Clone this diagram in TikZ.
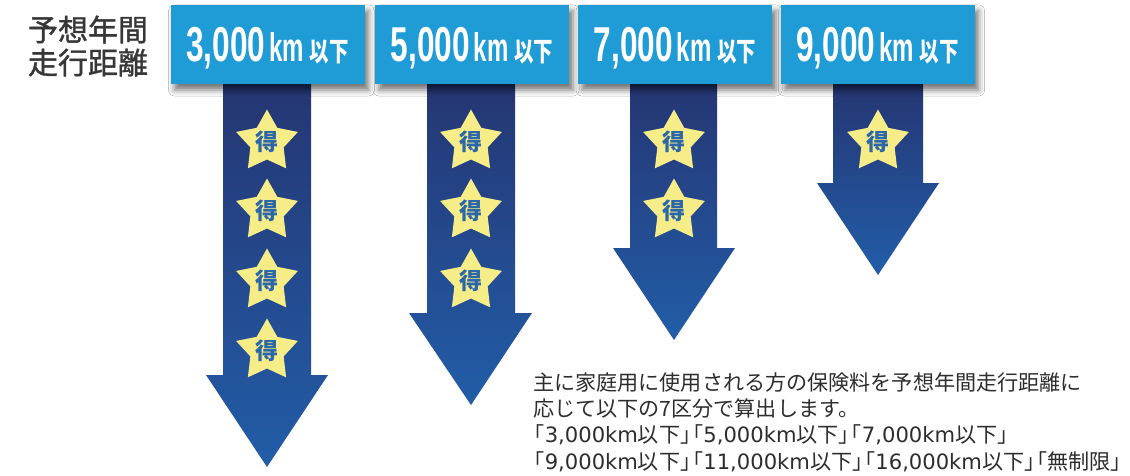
\documentclass[tikz,border=0pt]{standalone}
\usepackage{fontspec}
\usepackage{graphicx}
\setmainfont{Liberation Sans}
\newfontfamily\jpfont{Noto Sans CJK JP}
\newfontfamily\jpmed{Noto Sans CJK JP}[FakeBold=1.2]
\newfontfamily\dvfont{DejaVu Sans}
\newfontfamily\numfont{Liberation Sans}
\usetikzlibrary{shadows.blur}
\definecolor{boxblue}{RGB}{31,155,214}
\definecolor{arrtop}{RGB}{37,54,115}
\definecolor{arrbot}{RGB}{34,93,168}
\definecolor{starfill}{RGB}{246,236,136}
\definecolor{tokublue}{RGB}{44,103,170}
\definecolor{labgray}{RGB}{55,55,55}
\definecolor{txtgray}{RGB}{45,45,45}
\newcommand\kmlabel[1]{%
  \scalebox{0.645}[1]{\fontsize{49}{49}\selectfont\numfont\bfseries #1}%
  \hspace{4pt}%
  \scalebox{0.6}[1]{\fontsize{40}{40}\selectfont\numfont\bfseries km}%
  \hspace{6pt}%
  \scalebox{0.72}[1]{\fontsize{27}{27}\selectfont\jpfont\bfseries 以下}}
\newcommand\Lt[1]{{\dvfont #1}}
\newcommand\kpair{\makebox[0.55em][l]{」}\makebox[0.55em][r]{「}}
\newcommand\kopen{\makebox[0.55em][r]{「}}
\tikzset{
  kmbox/.style={fill=boxblue, text=white, inner sep=0pt,
    minimum width=194pt, minimum height=79pt, text height=35pt, text depth=0pt,
    blur shadow={shadow xshift=4pt, shadow yshift=-6pt, shadow blur radius=6pt, shadow opacity=55}},
  arrowshade/.style={top color=arrtop, bottom color=arrbot},
  tokutext/.style={text=tokublue, inner sep=0pt, font=\fontsize{23}{23}\selectfont\jpfont\bfseries},
  tokustar/.pic={
    \fill[starfill] (90:32.5pt) \foreach \a/\r in {126/17.5,162/32.5,198/17.5,234/32.5,270/17.5,306/32.5,342/17.5,18/32.5,54/17.5} { -- (\a:\r pt) } -- cycle;
    \node[tokutext] (-t) {得};
  },
  bodytext/.style={anchor=base west, inner sep=0pt, text=txtgray, font=\fontsize{21.1}{26}\selectfont\jpfont}
}
\begin{document}
\begin{tikzpicture}[x=1pt,y=-1pt]
\useasboundingbox (0,0) rectangle (1130,476);
\fill[white] (0,0) rectangle (1130,476);

% arrows
\shade[arrowshade] (223,84) -- (311,84) -- (311,375) -- (328,375) -- (267,467) -- (206,375) -- (223,375) -- cycle;
\shade[arrowshade] (427,84) -- (515,84) -- (515,313) -- (532,313) -- (471,405) -- (409,313) -- (427,313) -- cycle;
\shade[arrowshade] (630,84) -- (717,84) -- (717,248) -- (735,248) -- (674,340) -- (613,248) -- (630,248) -- cycle;
\shade[arrowshade] (833,84) -- (923,84) -- (923,183) -- (939,183) -- (878,275) -- (817,183) -- (833,183) -- cycle;

% boxes
\node[kmbox] (b1) at (267.5,44.5) {\kmlabel{3,000}};
\node[kmbox] (b2) at (472,44.5) {\kmlabel{5,000}};
\node[kmbox] (b3) at (675,44.5) {\kmlabel{7,000}};
\node[kmbox] (b4) at (877.5,44.5) {\kmlabel{9,000}};

% label
\node[text=labgray, align=center, inner sep=0pt, font=\fontsize{30}{33}\selectfont\jpmed] (lab) at (88,46) {予想年間\\走行距離};

% stars
\pic (s11) at (267,142) {tokustar};
\pic (s12) at (267,211) {tokustar};
\pic (s13) at (267,281) {tokustar};
\pic (s14) at (267,351) {tokustar};
\pic (s21) at (471,142) {tokustar};
\pic (s22) at (471,211) {tokustar};
\pic (s23) at (471,281) {tokustar};
\pic (s31) at (674,142) {tokustar};
\pic (s32) at (674,211) {tokustar};
\pic (s41) at (878,142) {tokustar};

% body text
\node[bodytext] (t1) at (533,390) {主に家庭用に使用される方の保険料を予想年間走行距離に};
\node[bodytext] (t2) at (533,416.3) {応じて以下の7区分で算出します。};
\node[bodytext] (t3) at (533,442.6) {\kopen\Lt{3,000km}以下\kpair\Lt{5,000km}以下\kpair\Lt{7,000km}以下」};
\node[bodytext] (t4) at (533,469) {\kopen\Lt{9,000km}以下\kpair\Lt{11,000km}以下\kpair\Lt{16,000km}以下\kpair 無制限」};
\end{tikzpicture}
\end{document}
